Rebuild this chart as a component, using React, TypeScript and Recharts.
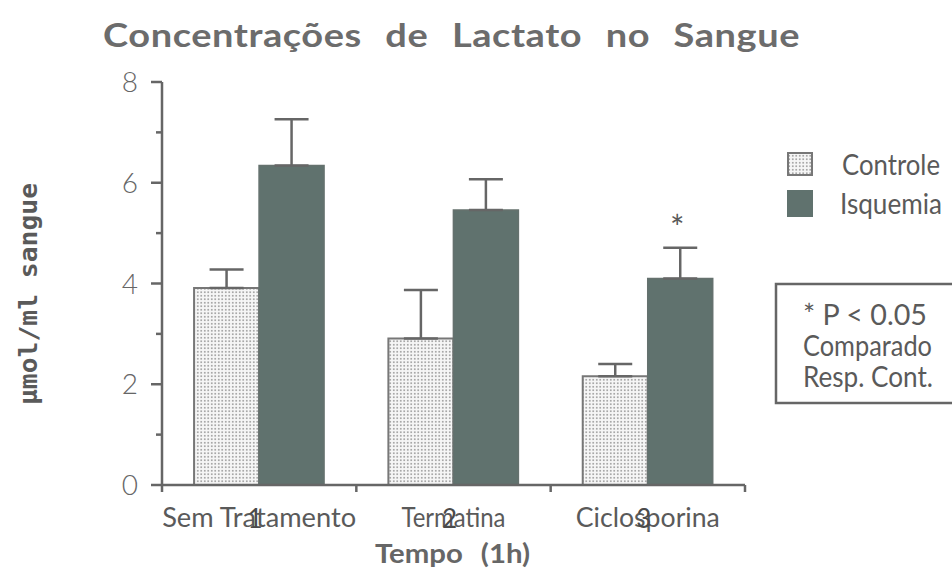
import React from 'react';
import { BarChart, Bar, XAxis, YAxis, ErrorBar, LabelList } from 'recharts';

const categories = ['Sem Tratamento', 'Termatina', 'Ciclosporina'];
const tickNumbers = ['1', '2', '3'];
const controle = [3.91, 2.91, 2.16];
const controleErr = [0.37, 0.96, 0.24];
const isquemia = [6.34, 5.46, 4.1];
const isquemiaErr = [0.92, 0.61, 0.61];
const signif = ['', '', '*'];
const yTicks = [0, 1, 2, 3, 4, 5, 6, 7, 8];

const data = categories.map((name, i) => ({
  name,
  controle: controle[i],
  controleErr: [0, controleErr[i]],
  isquemia: isquemia[i],
  isquemiaErr: [0, isquemiaErr[i]],
  sig: signif[i],
}));

const W = 952;
const H = 571;
const Y_AXIS_W = 100;
const X_AXIS_H = 40;
const MARGIN = { top: 82, right: 207, bottom: 46, left: 62 };
const PLOT_W = W - MARGIN.left - MARGIN.right - Y_AXIS_W;
const PLOT_H = H - MARGIN.top - MARGIN.bottom - X_AXIS_H;
const BAND = PLOT_W / categories.length;
const PX_PER_UNIT = PLOT_H / 8;

const GRAY = '#666';
const TEXT = '#5a5a5a';
const FONT = 'Lato, "Open Sans", sans-serif';
const ISQ = '#60726e';

// measured label widths in the scan (narrow typeface)
const labelWidth = [194, 104, 144];

const YTick = (props: any) => {
  const { x, y, payload } = props;
  const major = payload.value % 2 === 0;
  return (
    <g>
      <line x1={x - (major ? 11 : 6)} x2={x} y1={y} y2={y} stroke={GRAY} strokeWidth={2.5} />
      {major && (
        <text x={x - 24} y={y} dy={10} textAnchor="end" fontFamily={FONT} fontWeight={300} fontSize={28} fill="#666">
          {payload.value}
        </text>
      )}
    </g>
  );
};

const XTick = (props: any) => {
  const { x, y, index } = props;
  const left = x - BAND / 2;
  const right = x + BAND / 2;
  return (
    <g>
      <line x1={left} x2={left} y1={y} y2={y + 7} stroke={GRAY} strokeWidth={2.5} />
      {index === categories.length - 1 && (
        <line x1={right} x2={right} y1={y} y2={y + 7} stroke={GRAY} strokeWidth={2.5} />
      )}
      <text
        x={x}
        y={y + 42}
        textAnchor="middle"
        fontFamily={FONT}
        fontSize={27}
        fill={TEXT}
        textLength={labelWidth[index]}
        lengthAdjust="spacingAndGlyphs"
      >
        {categories[index]}
      </text>
      <text x={x - 4} y={y + 43} textAnchor="middle" fontFamily={FONT} fontSize={26} fill="#4a4a4a">
        {tickNumbers[index]}
      </text>
    </g>
  );
};

const Star = (props: any) => {
  const { x, y, width, value, index } = props;
  if (!value) return null;
  const top = y - isquemiaErr[index] * PX_PER_UNIT;
  return (
    <text x={x + width / 2 - 3} y={top - 8} textAnchor="middle" fontFamily={FONT} fontSize={34} fill={TEXT}>
      {value}
    </text>
  );
};

const Dots = ({ id }: { id: string }) => (
  <pattern id={id} width="3.5" height="3.5" patternUnits="userSpaceOnUse">
    <rect width="3.5" height="3.5" fill="#f6f6f6" />
    <rect x="1" y="1" width="1.5" height="1.5" fill="#8c8c8c" />
  </pattern>
);

const App: React.FC = () => {
  return (
    <div style={{ position: 'absolute', left: 0, top: 0, width: W, height: H, background: '#fff', overflow: 'hidden' }}>
      <BarChart width={W} height={H} data={data} margin={MARGIN} barCategoryGap="16.5%" barGap={0}>
        <defs>
          <Dots id="dots" />
        </defs>
        <XAxis
          dataKey="name"
          height={X_AXIS_H}
          axisLine={{ stroke: GRAY, strokeWidth: 2.5 }}
          tickLine={false}
          tickSize={0}
          tickMargin={0}
          tick={<XTick />}
          interval={0}
        />
        <YAxis
          width={Y_AXIS_W}
          domain={[0, 8]}
          ticks={yTicks}
          interval={0}
          axisLine={{ stroke: GRAY, strokeWidth: 2.5 }}
          tickLine={false}
          tickSize={0}
          tickMargin={0}
          tick={<YTick />}
        />
        <Bar dataKey="controle" fill="url(#dots)" stroke="#777" strokeWidth={2} isAnimationActive={false}>
          <ErrorBar dataKey="controleErr" width={17} stroke={GRAY} strokeWidth={2.5} direction="y" />
        </Bar>
        <Bar dataKey="isquemia" fill={ISQ} stroke="#65716e" strokeWidth={1.5} isAnimationActive={false}>
          <ErrorBar dataKey="isquemiaErr" width={17} stroke={GRAY} strokeWidth={2.5} direction="y" />
          <LabelList dataKey="sig" content={<Star />} />
        </Bar>
      </BarChart>

      {/* titles, legend and note */}
      <svg width={W} height={H} style={{ position: 'absolute', left: 0, top: 0, pointerEvents: 'none' }}>
        <defs>
          <Dots id="dotsLeg" />
        </defs>
        <text
          x={451.5}
          y={47}
          textAnchor="middle"
          fontFamily={FONT}
          fontWeight={700}
          fontSize={33}
          fill="#6c6c6c"
          style={{ wordSpacing: 12, letterSpacing: 0.5 }}
          textLength={697}
          lengthAdjust="spacingAndGlyphs"
        >
          Concentrações de Lactato no Sangue
        </text>

        <text
          transform="translate(37, 294) rotate(-90)"
          textAnchor="middle"
          fontFamily='"DejaVu Sans Mono", monospace'
          fontWeight={700}
          fontSize={24}
          fill={TEXT}
          textLength={222}
          lengthAdjust="spacingAndGlyphs"
        >
          µmol/ml sangue
        </text>

        <text
          x={452.5}
          y={563}
          textAnchor="middle"
          fontFamily={FONT}
          fontWeight={700}
          fontSize={27}
          fill="#666"
          style={{ wordSpacing: 10 }}
          textLength={155}
          lengthAdjust="spacingAndGlyphs"
        >
          Tempo (1h)
        </text>

        {/* legend */}
        <rect x={788} y={153} width={24} height={22} fill="url(#dotsLeg)" stroke="#777" strokeWidth={2} />
        <text x={842} y={175} fontFamily={FONT} fontSize={28} fill={TEXT} textLength={98} lengthAdjust="spacingAndGlyphs">
          Controle
        </text>
        <rect x={787} y={190} width={26} height={27} fill={ISQ} />
        <text x={840} y={214} fontFamily={FONT} fontSize={28} fill={TEXT} textLength={102} lengthAdjust="spacingAndGlyphs">
          Isquemia
        </text>

        {/* significance note */}
        <rect x={776} y={284} width={200} height={119} fill="none" stroke={GRAY} strokeWidth={2.5} />
        <text x={803} y={325} fontFamily={FONT} fontSize={28} fill={TEXT} textLength={124} lengthAdjust="spacingAndGlyphs">
          * P &lt; 0.05
        </text>
        <text x={803} y={356} fontFamily={FONT} fontSize={28} fill={TEXT} textLength={129} lengthAdjust="spacingAndGlyphs">
          Comparado
        </text>
        <text x={803} y={387} fontFamily={FONT} fontSize={28} fill={TEXT} textLength={130} lengthAdjust="spacingAndGlyphs">
          Resp. Cont.
        </text>
      </svg>
    </div>
  );
};

export default App;
